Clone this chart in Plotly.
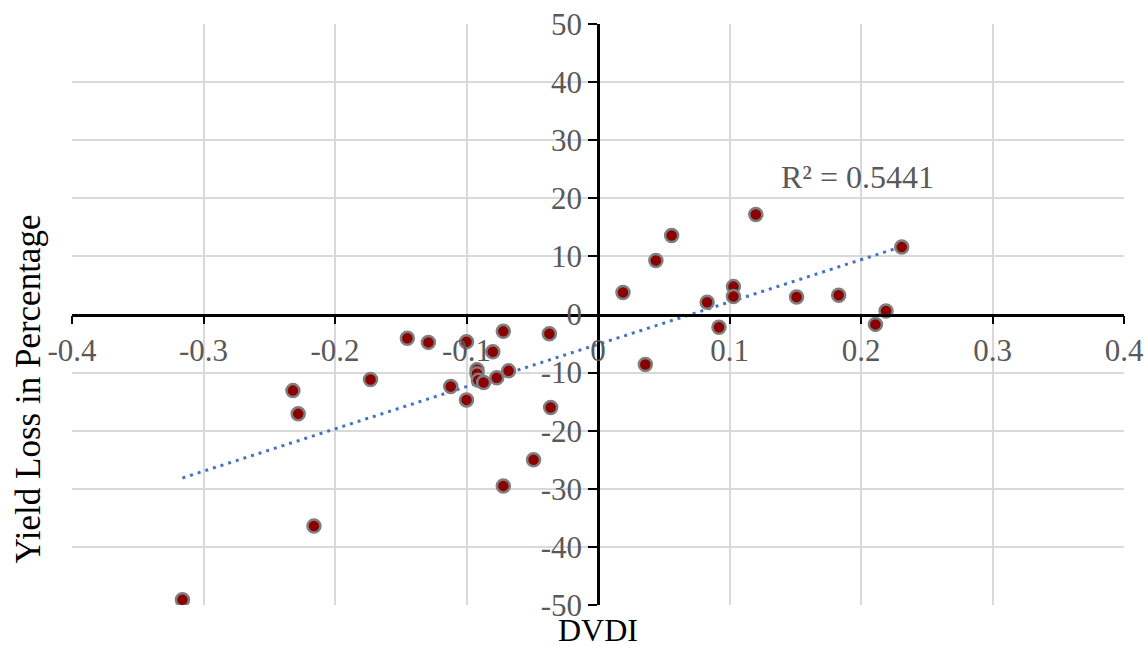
import numpy as np
import plotly.graph_objects as go

# ---- data ----
dvdi = [-0.316, -0.232, -0.228, -0.216, -0.173, -0.145, -0.129, -0.100,
        -0.072, -0.037, -0.080, -0.092, -0.092, -0.091, -0.087, -0.112,
        -0.100, -0.077, -0.068, -0.036, -0.049, -0.072, 0.019, 0.044,
        0.056, 0.083, 0.092, 0.103, 0.103, 0.120, 0.151, 0.183, 0.211,
        0.219, 0.231, 0.036]
yield_loss = [-49.1, -13.1, -17.1, -36.4, -11.2, -4.1, -4.8, -4.7,
              -2.9, -3.3, -6.4, -9.5, -10.2, -11.3, -11.7, -12.4,
              -14.7, -10.9, -9.7, -16.0, -25.0, -29.5, 3.8, 9.3,
              13.6, 2.1, -2.2, 4.8, 3.1, 17.2, 3.0, 3.3, -1.7,
              0.6, 11.6, -8.6]
x_ticks = [-0.4, -0.3, -0.2, -0.1, 0, 0.1, 0.2, 0.3, 0.4]
x_tick_labels = ["-0.4", "-0.3", "-0.2", "-0.1", "0", "0.1", "0.2", "0.3", "0.4"]
y_ticks = [-50, -40, -30, -20, -10, 0, 10, 20, 30, 40, 50]
y_tick_labels = [str(v) for v in y_ticks]
r2_text = "R² = 0.5441"
x_title = "DVDI"
y_title = "Yield Loss in Percentage"

# linear trendline fitted to the data
xa = np.array(dvdi)
ya = np.array(yield_loss)
slope, intercept = np.polyfit(xa, ya, 1)
tx = np.array([xa.min(), xa.max()])
ty = slope * tx + intercept

FONT = "Liberation Serif, Times New Roman, serif"
GRID = "#D9D9D9"
TICKCOL = "#595959"

fig = go.Figure()
fig.add_trace(go.Scatter(
    x=tx, y=ty, mode="lines",
    line=dict(color="#4472C4", width=3, dash="3px,5px"),
    hoverinfo="skip", showlegend=False))
fig.add_trace(go.Scatter(
    x=dvdi, y=yield_loss, mode="markers",
    marker=dict(size=13, color="#8B0000", line=dict(color="#7F7F7F", width=2.5)),
    showlegend=False))

fig.update_layout(
    width=1146, height=646,
    margin=dict(l=72, r=22, t=24, b=41),
    paper_bgcolor="white", plot_bgcolor="white",
    font=dict(family=FONT, size=31, color=TICKCOL),
    xaxis=dict(
        range=[-0.4, 0.4], domain=[0, 1], automargin=False,
        tickvals=x_ticks, ticktext=x_tick_labels,
        showgrid=True, gridcolor=GRID, gridwidth=1.5,
        zeroline=False,
        showline=True, linecolor="black", linewidth=2.5,
        ticks="outside", ticklen=8, tickwidth=2, tickcolor="black",
        anchor="free", position=0.5, side="bottom",
        tickfont=dict(family=FONT, size=31, color=TICKCOL),
    ),
    yaxis=dict(
        range=[-50, 50], domain=[0, 1], automargin=False,
        tickvals=y_ticks, ticktext=y_tick_labels,
        showgrid=True, gridcolor=GRID, gridwidth=1.5,
        zeroline=False,
        showline=True, linecolor="black", linewidth=2.5,
        ticks="outside", ticklen=9, tickwidth=2, tickcolor="black",
        anchor="free", position=0.5, side="left",
        tickfont=dict(family=FONT, size=31, color=TICKCOL),
    ),
    annotations=[
        dict(text=x_title, xref="paper", yref="paper", x=0.5, y=0,
             xanchor="center", yanchor="top", yshift=-5, showarrow=False,
             font=dict(family=FONT, size=32, color="black")),
        dict(text=y_title, xref="paper", yref="paper", x=0, y=0.5,
             xanchor="center", yanchor="middle", xshift=-44, yshift=-75,
             textangle=-90, showarrow=False,
             font=dict(family=FONT, size=35, color="black")),
        dict(text=r2_text, xref="x", yref="y", x=0.1977, y=23.6,
             xanchor="center", yanchor="middle", showarrow=False,
             font=dict(family=FONT, size=32, color=TICKCOL)),
    ],
)

fig.write_html("out.html")
